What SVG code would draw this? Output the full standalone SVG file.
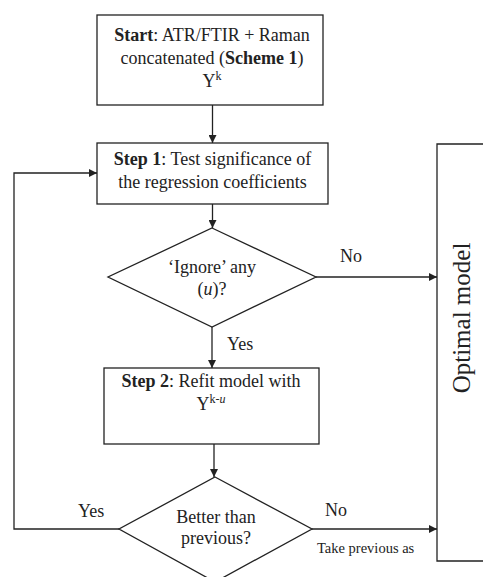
<svg xmlns="http://www.w3.org/2000/svg" width="483" height="577" viewBox="0 0 483 577">
<style>
.box{fill:#fff;stroke:#222;stroke-width:1.3}
.ln{fill:none;stroke:#222;stroke-width:1.3}
text{font-family:"Liberation Serif","Times New Roman",serif;fill:#222;font-size:18px}
.c{text-anchor:middle}
.b{font-weight:bold}
</style>
<defs>
<marker id="ah" viewBox="0 0 10 10" refX="10" refY="5" markerWidth="8" markerHeight="8" markerUnits="userSpaceOnUse" orient="auto">
<path d="M0,0 L10,5 L0,10 z" fill="#222"/>
</marker>
</defs>
<g id="connectors">
<path class="ln" d="M212.5,105 V143" marker-end="url(#ah)"/>
<path class="ln" d="M212.5,204 V228" marker-end="url(#ah)"/>
<path class="ln" d="M316,277 H437" marker-end="url(#ah)"/>
<path class="ln" d="M212,327 V368" marker-end="url(#ah)"/>
<path class="ln" d="M214,444 V477" marker-end="url(#ah)"/>
<path class="ln" d="M312,529 H437" marker-end="url(#ah)"/>
<path class="ln" d="M119,529 H14 V173 H97" marker-end="url(#ah)"/>
<text x="340" y="262">No</text>
<text x="227" y="350">Yes</text>
<text x="78" y="517">Yes</text>
<text x="325" y="516">No</text>
<text x="317" y="553" style="font-size:14.5px">Take previous as</text>
</g>
<g id="start">
<rect class="box" x="97" y="15" width="226" height="90"/>
<text class="c" x="212" y="41"><tspan class="b">Start</tspan>: ATR/FTIR + Raman</text>
<text class="c" x="212" y="64">concatenated (<tspan class="b">Scheme 1</tspan>)</text>
<text class="c" x="212" y="87">Y<tspan style="font-size:12px" dy="-7">k</tspan></text>
</g>
<g id="step1">
<rect class="box" x="97" y="143" width="231" height="61"/>
<text class="c" x="212.5" y="165"><tspan class="b">Step 1</tspan>: Test significance of</text>
<text class="c" x="212.5" y="188">the regression coefficients</text>
</g>
<g id="decision1">
<path class="box" d="M212,228 L316,277 L212,327 L108,277 Z"/>
<text class="c" x="212" y="273">‘Ignore’ any</text>
<text class="c" x="212" y="295">(<tspan font-style="italic">u</tspan>)?</text>
</g>
<g id="step2">
<rect class="box" x="104" y="368" width="215" height="76"/>
<text class="c" x="211" y="387"><tspan class="b">Step 2</tspan>: Refit model with</text>
<text class="c" x="211" y="410">Y<tspan style="font-size:12px" dy="-7">k-<tspan font-style="italic">u</tspan></tspan></text>
</g>
<g id="decision2">
<path class="box" d="M215,477 L312,529 L215,582 L119,529 Z"/>
<text class="c" x="216" y="523">Better than</text>
<text class="c" x="216" y="544">previous?</text>
</g>
<g id="optimal">
<path class="ln" d="M484,144 H437 V561 H484"/>
<text class="c" transform="translate(470,318) rotate(-90)" style="font-size:25px">Optimal model</text>
</g>
</svg>
